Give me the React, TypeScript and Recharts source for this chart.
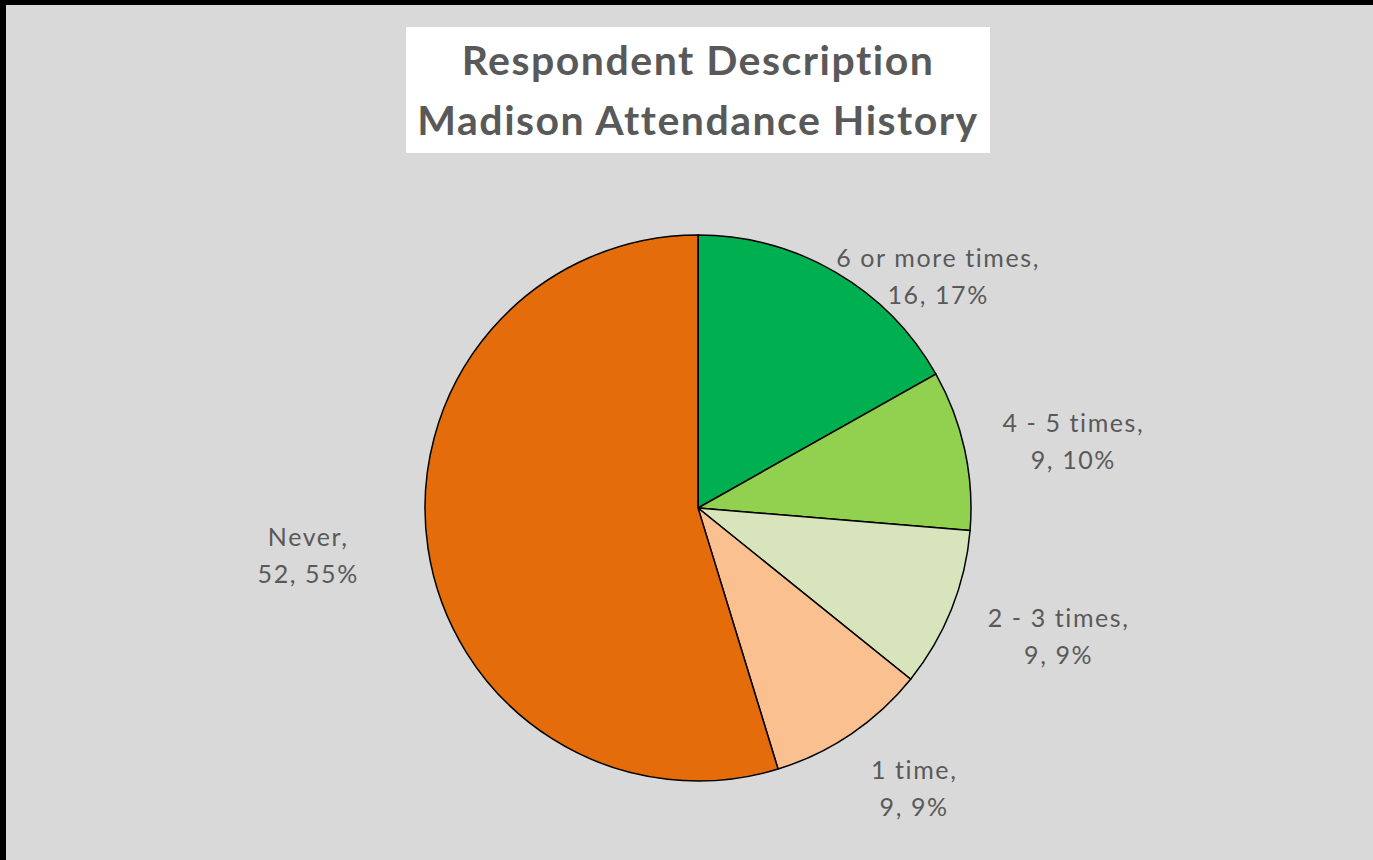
import React from "react"
import { Cell, Pie, PieChart } from "recharts"

const categories = ["6 or more times", "4 - 5 times", "2 - 3 times", "1 time", "Never"]
const counts = [16, 9, 9, 9, 52]
const percentLabels = ["17%", "10%", "9%", "9%", "55%"]
const titleLines = ["Respondent Description", "Madison Attendance History"]

const sliceColors = ["#00b050", "#92d050", "#d8e4bc", "#fac090", "#e46c0a"]
// excel let these two labels be dragged a bit off their best-fit spot
const labelNudge = [[-17, 52], [0, 0], [0, 0], [0, 0], [-43, -6]]
const RADIAN = Math.PI / 180
const FONT = "Lato, 'Open Sans', sans-serif"

const data = categories.map((name, i) => ({ name, value: counts[i], pct: percentLabels[i] }))

// outside labels: box sits just beyond the rim, pushed away from the pie
function renderLabel(props: any) {
  const { cx, cy, midAngle, outerRadius, index } = props
  const d = data[index]
  const lines = [`${d.name},`, `${d.value}, ${d.pct}`]
  const charW = 12.9
  const w = Math.max(...lines.map((l) => l.length)) * charW
  const h = 72
  const r = outerRadius + 32
  const dx = Math.cos(-midAngle * RADIAN)
  const dy = Math.sin(-midAngle * RADIAN)
  const ax = cx + r * dx
  const ay = cy + r * dy
  const x = ax + (dx >= 0 ? w / 2 : -w / 2) + labelNudge[index][0]
  const y = ay + dy * (h / 2) * 0.8 + labelNudge[index][1]
  return (
    <text
      x={x}
      y={y - 13}
      textAnchor="middle"
      fill="#595959"
      fontSize={25}
      fontFamily={FONT}
      letterSpacing={1.6}
    >
      {lines.map((l, i) => (
        <tspan key={i} x={x} dy={i === 0 ? 8 : 37}>
          {l}
        </tspan>
      ))}
    </text>
  )
}

export default function App() {
  return (
    <div
      style={{
        position: "absolute",
        left: 0,
        top: 0,
        width: 1373,
        height: 860,
        background: "#d9d9d9",
        overflow: "hidden",
      }}
    >
      <PieChart
        width={1373}
        height={860}
        margin={{ top: 0, right: 0, bottom: 0, left: 0 }}
        style={{ position: "absolute", left: 0, top: 0 }}
      >
        <Pie
          data={data}
          dataKey="value"
          nameKey="name"
          cx={698}
          cy={508}
          outerRadius={273}
          startAngle={90}
          endAngle={-270}
          stroke="#000000"
          strokeWidth={1.5}
          label={renderLabel}
          labelLine={false}
          isAnimationActive={false}
        >
          {data.map((entry, i) => (
            <Cell key={`cell-${i}`} fill={sliceColors[i]} />
          ))}
        </Pie>
      </PieChart>
      <div
        style={{
          position: "absolute",
          left: 406,
          top: 27,
          width: 584,
          height: 126,
          background: "#ffffff",
          display: "flex",
          flexDirection: "column",
          alignItems: "center",
          justifyContent: "center",
          fontFamily: FONT,
          fontWeight: 700,
          fontSize: 41,
          lineHeight: "60px",
          color: "#595959",
          letterSpacing: 1.5,
        }}
      >
        {titleLines.map((t) => (
          <div key={t}>{t}</div>
        ))}
      </div>
      <div style={{ position: "absolute", left: 0, top: 0, width: 1373, height: 5, background: "#000" }} />
      <div style={{ position: "absolute", left: 0, top: 0, width: 6, height: 860, background: "#000" }} />
    </div>
  )
}
